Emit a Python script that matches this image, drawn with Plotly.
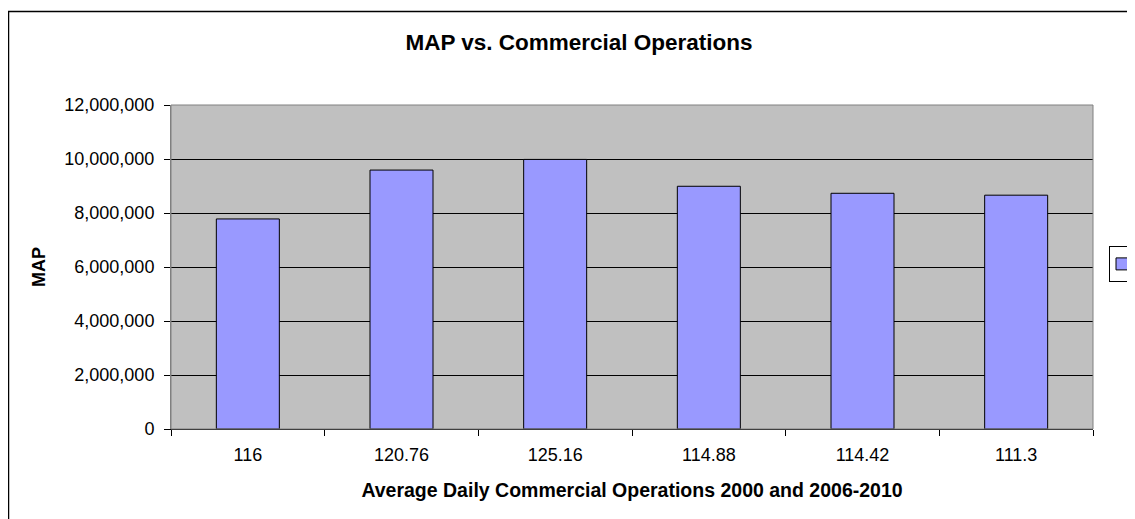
import plotly.graph_objects as go

categories = ["116", "120.76", "125.16", "114.88", "114.42", "111.3"]
map_values = [7780000, 9590000, 9985000, 8990000, 8730000, 8660000]
y_ticks = [0, 2000000, 4000000, 6000000, 8000000, 10000000, 12000000]
y_tick_labels = ["0", "2,000,000", "4,000,000", "6,000,000", "8,000,000", "10,000,000", "12,000,000"]

# page offset: browser body margin of 8px
OFF = 8
W, H = 1135 - OFF, 519 - OFF
L, R, T, B = 171 - OFF, 1093 - OFF, 105 - OFF, 429 - OFF


def px(x):
    return (x - OFF - L) / (R - L)


def py(y):
    return (B - (y - OFF)) / (B - T)


fig = go.Figure()
fig.add_trace(go.Bar(
    x=categories, y=map_values, name=" ",
    marker=dict(color="#9999FF", line=dict(color="#000000", width=1)),
    width=0.41, showlegend=True,
))

font = "Liberation Sans, Arial, sans-serif"
fig.update_layout(
    width=W, height=H,
    margin=dict(l=L, r=W - R, t=T, b=H - B, autoexpand=False),
    paper_bgcolor="white",
    plot_bgcolor="#C0C0C0",
    font=dict(family=font, size=18, color="#000000"),
    title=dict(text="<b>MAP vs. Commercial Operations</b>", x=(579 - OFF) / W, xanchor="center",
               y=1 - (42 - OFF) / H, yanchor="middle", font=dict(size=22.5, family=font)),
    xaxis=dict(
        type="category", tickson="boundaries", ticks="outside", ticklen=6,
        tickcolor="#000000", showline=True, linecolor="#000000", linewidth=1,
        showgrid=False, mirror=False, ticklabelstandoff=9,
        title=dict(text="<b>Average Daily Commercial Operations 2000 and 2006-2010</b>",
                   font=dict(size=19.5), standoff=19),
        tickfont=dict(size=18),
    ),
    yaxis=dict(
        range=[0, 12000000], tickvals=y_ticks, ticktext=y_tick_labels,
        ticks="outside", ticklen=6, tickcolor="#000000",
        showline=True, linecolor="#808080", linewidth=1,
        showgrid=True, gridcolor="#000000", gridwidth=1, zeroline=False,
        ticklabelstandoff=6,
        title=dict(text="<b>MAP</b>", font=dict(size=18), standoff=14),
        tickfont=dict(size=18),
    ),
    legend=dict(
        x=px(1109), xanchor="left", y=py(264), yanchor="middle",
        bgcolor="white", bordercolor="#000000", borderwidth=1,
        itemwidth=30, font=dict(size=16), indentation=-8,
    ),
    bargap=0.59,
)

# plot area border (right/top)
fig.add_shape(type="rect", xref="paper", yref="paper", x0=0, x1=1, y0=0, y1=1,
              line=dict(color="#808080", width=1), fillcolor="rgba(0,0,0,0)", layer="above")
# outer chart border (extends past right and bottom edges)
fig.add_shape(type="rect", xref="paper", yref="paper",
              x0=px(8.5), x1=px(1200), y0=py(600), y1=py(11.5),
              line=dict(color="#000000", width=1.5), fillcolor="rgba(0,0,0,0)")

fig.write_html("out.html")
